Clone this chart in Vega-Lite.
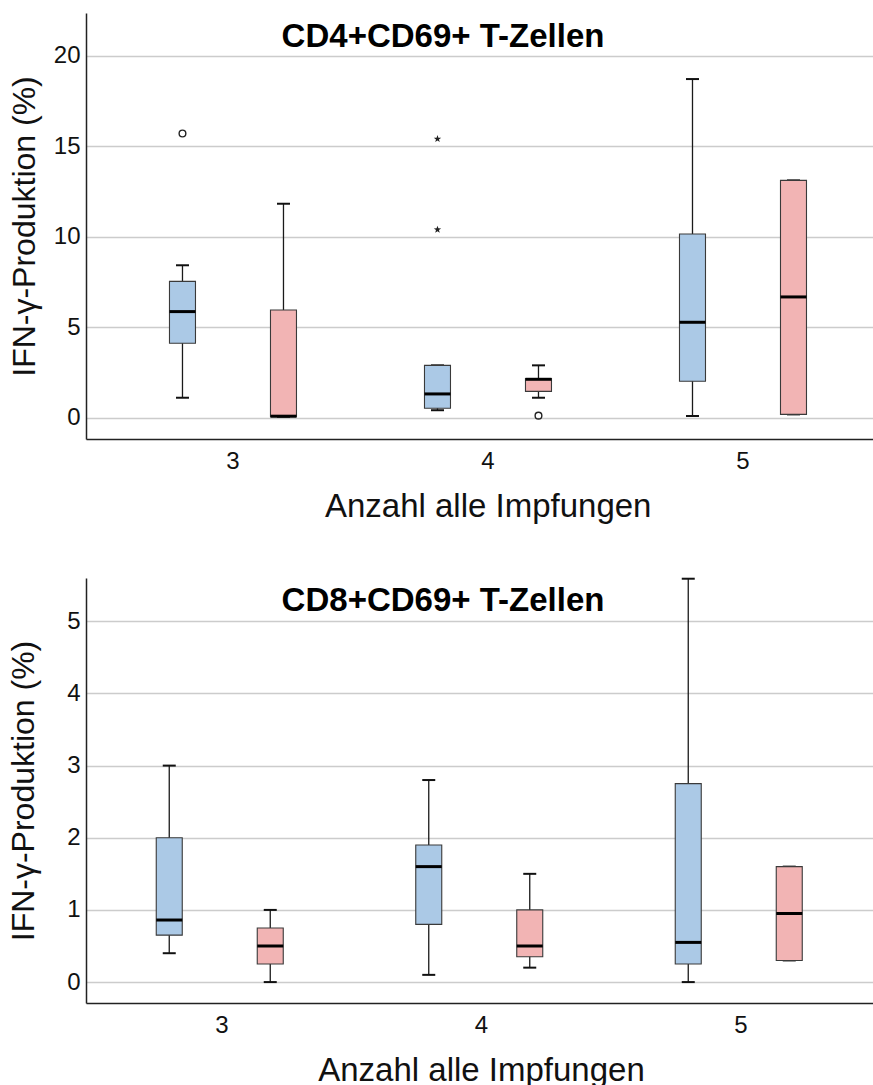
{
  "$schema": "https://vega.github.io/schema/vega-lite/v6.json",
  "padding": {"left": 7, "top": 13, "right": 0, "bottom": 0},
  "autosize": {"type": "pad"},
  "config": {
    "font": "Liberation Sans",
    "view": {"stroke": null},
    "axis": {"labelFont": "Liberation Sans", "titleFont": "Liberation Sans", "labelFontSize": 24, "titleFontSize": 32, "titleFontWeight": "normal", "labelColor": "#111", "titleColor": "#111", "domainColor": "#222", "domainWidth": 1.5, "ticks": false, "gridColor": "#cccccc", "gridWidth": 1.5},
    "axisX": {"grid": false, "labelPadding": 10, "titlePadding": 17, "labelAngle": 0, "titleFontSize": 33},
    "axisY": {"grid": true, "labelPadding": 6},
    "tick": {"opacity": 1}
  },
  "datasets": {
    "cd4box": [
      {"impf": "3", "grp": "a", "lo": 1.10, "q1": 4.11, "med": 5.86, "q3": 7.53, "hi": 8.42},
      {"impf": "3", "grp": "b", "lo": 0.05, "q1": 0.05, "med": 0.08, "q3": 5.95, "hi": 11.82},
      {"impf": "4", "grp": "a", "lo": 0.41, "q1": 0.52, "med": 1.31, "q3": 2.89, "hi": 2.89},
      {"impf": "4", "grp": "b", "lo": 1.10, "q1": 1.45, "med": 2.12, "q3": 2.16, "hi": 2.89},
      {"impf": "5", "grp": "a", "lo": 0.09, "q1": 2.01, "med": 5.27, "q3": 10.15, "hi": 18.71},
      {"impf": "5", "grp": "b", "lo": 0.18, "q1": 0.18, "med": 6.67, "q3": 13.11, "hi": 13.11}
    ],
    "cd4circ": [
      {"impf": "3", "grp": "a", "v": 15.7},
      {"impf": "4", "grp": "b", "v": 0.11}
    ],
    "cd4star": [
      {"impf": "4", "grp": "a", "v": 15.4},
      {"impf": "4", "grp": "a", "v": 10.39}
    ],
    "cd8box": [
      {"impf": "3", "grp": "a", "lo": 0.40, "q1": 0.65, "med": 0.86, "q3": 2.0, "hi": 3.0},
      {"impf": "3", "grp": "b", "lo": 0.0, "q1": 0.25, "med": 0.5, "q3": 0.75, "hi": 1.0},
      {"impf": "4", "grp": "a", "lo": 0.1, "q1": 0.8, "med": 1.6, "q3": 1.9, "hi": 2.8},
      {"impf": "4", "grp": "b", "lo": 0.2, "q1": 0.35, "med": 0.5, "q3": 1.0, "hi": 1.5},
      {"impf": "5", "grp": "a", "lo": 0.0, "q1": 0.25, "med": 0.55, "q3": 2.75, "hi": 5.59},
      {"impf": "5", "grp": "b", "lo": 0.3, "q1": 0.3, "med": 0.95, "q3": 1.6, "hi": 1.6}
    ]
  },
  "vconcat": [
    {
      "width": 787,
      "height": 426,
      "resolve": {"axis": {"x": "independent"}},
      "encoding": {
        "x": {"field": "impf", "type": "nominal", "scale": {"paddingInner": 0, "paddingOuter": 0.0431, "align": 0.886}, "axis": null},
        "xOffset": {"field": "grp", "type": "nominal", "scale": {"paddingInner": 0, "paddingOuter": 0.2624}}
      },
      "layer": [
        {
          "data": {"name": "cd4box"},
          "mark": {"type": "rule", "color": "#1a1a1a", "strokeWidth": 1.3},
          "encoding": {
            "x": {"field": "impf", "type": "nominal", "scale": {"paddingInner": 0, "paddingOuter": 0.0431, "align": 0.886}, "axis": {"title": "Anzahl alle Impfungen", "titleX": 401.7}},
            "y": {"field": "lo", "type": "quantitative", "scale": {"domain": [-1.18, 22.36], "nice": false, "zero": false}, "axis": {"title": "IFN-γ-Produktion (%)", "values": [0, 5, 10, 15, 20], "titlePadding": 12}},
            "y2": {"field": "hi"}
          }
        },
        {
          "data": {"name": "cd4box"},
          "mark": {"type": "tick", "color": "#111", "size": 13, "thickness": 2},
          "encoding": {
            "x": {"field": "impf", "type": "nominal", "scale": {"paddingInner": 0, "paddingOuter": 0.0431, "align": 0.886}, "axis": {"orient": "top", "title": "CD4+CD69+ T-Zellen", "labels": false, "domain": false, "ticks": false, "grid": false, "titleFontSize": 33, "titleFontWeight": "bold", "titleColor": "#000", "titleX": 356.5, "titleY": 33, "titleBaseline": "alphabetic", "titleAlign": "center", "titleAngle": 0}},
            "y": {"field": "lo", "type": "quantitative", "scale": {"domain": [-1.18, 22.36], "nice": false, "zero": false}, "axis": {"title": "IFN-γ-Produktion (%)", "values": [0, 5, 10, 15, 20], "titlePadding": 12}}
          }
        },
        {
          "data": {"name": "cd4box"},
          "mark": {"type": "tick", "color": "#111", "size": 13, "thickness": 2},
          "encoding": {
            "y": {"field": "hi", "type": "quantitative", "scale": {"domain": [-1.18, 22.36], "nice": false, "zero": false}, "axis": {"title": "IFN-γ-Produktion (%)", "values": [0, 5, 10, 15, 20], "titlePadding": 12}}
          }
        },
        {
          "data": {"name": "cd4box"},
          "mark": {"type": "bar", "size": 26, "stroke": "#3a3a3a", "strokeWidth": 1.1, "opacity": 1},
          "encoding": {
            "y": {"field": "q1", "type": "quantitative", "scale": {"domain": [-1.18, 22.36], "nice": false, "zero": false}, "axis": {"title": "IFN-γ-Produktion (%)", "values": [0, 5, 10, 15, 20], "titlePadding": 12}},
            "y2": {"field": "q3"},
            "color": {"field": "grp", "type": "nominal", "scale": {"domain": ["a", "b"], "range": ["#abc9e6", "#f2b4b4"]}, "legend": null}
          }
        },
        {
          "data": {"name": "cd4box"},
          "mark": {"type": "tick", "color": "#000", "size": 26, "thickness": 3},
          "encoding": {
            "y": {"field": "med", "type": "quantitative", "scale": {"domain": [-1.18, 22.36], "nice": false, "zero": false}, "axis": {"title": "IFN-γ-Produktion (%)", "values": [0, 5, 10, 15, 20], "titlePadding": 12}}
          }
        },
        {
          "data": {"name": "cd4circ"},
          "mark": {"type": "point", "shape": "circle", "filled": false, "stroke": "#222", "strokeWidth": 1.4, "size": 45, "opacity": 1},
          "encoding": {
            "y": {"field": "v", "type": "quantitative", "scale": {"domain": [-1.18, 22.36], "nice": false, "zero": false}, "axis": {"title": "IFN-γ-Produktion (%)", "values": [0, 5, 10, 15, 20], "titlePadding": 12}}
          }
        },
        {
          "data": {"name": "cd4star"},
          "mark": {"type": "point", "shape": "M0,-1L0.235,-0.324L0.951,-0.309L0.38,0.124L0.588,0.809L0,0.4L-0.588,0.809L-0.38,0.124L-0.951,-0.309L-0.235,-0.324Z", "filled": true, "fill": "#222", "strokeWidth": 0, "size": 60, "opacity": 1},
          "encoding": {
            "y": {"field": "v", "type": "quantitative", "scale": {"domain": [-1.18, 22.36], "nice": false, "zero": false}, "axis": {"title": "IFN-γ-Produktion (%)", "values": [0, 5, 10, 15, 20], "titlePadding": 12}}
          }
        }
      ]
    },
    {
      "width": 787,
      "height": 425,
      "resolve": {"axis": {"x": "independent"}},
      "encoding": {
        "x": {"field": "impf", "type": "nominal", "scale": {"paddingInner": 0, "paddingOuter": 0.01638, "align": 0.735}, "axis": null},
        "xOffset": {"field": "grp", "type": "nominal", "scale": {"paddingInner": 0, "paddingOuter": 0.266}}
      },
      "layer": [
        {
          "data": {"name": "cd8box"},
          "mark": {"type": "rule", "color": "#1a1a1a", "strokeWidth": 1.3},
          "encoding": {
            "x": {"field": "impf", "type": "nominal", "scale": {"paddingInner": 0, "paddingOuter": 0.01638, "align": 0.735}, "axis": {"title": "Anzahl alle Impfungen", "titleX": 395}},
            "y": {"field": "lo", "type": "quantitative", "scale": {"domain": [-0.29, 5.6], "nice": false, "zero": false}, "axis": {"title": "IFN-γ-Produktion (%)", "values": [0, 1, 2, 3, 4, 5], "titlePadding": 26}},
            "y2": {"field": "hi"}
          }
        },
        {
          "data": {"name": "cd8box"},
          "mark": {"type": "tick", "color": "#111", "size": 13, "thickness": 2},
          "encoding": {
            "x": {"field": "impf", "type": "nominal", "scale": {"paddingInner": 0, "paddingOuter": 0.01638, "align": 0.735}, "axis": {"orient": "top", "title": "CD8+CD69+ T-Zellen", "labels": false, "domain": false, "ticks": false, "grid": false, "titleFontSize": 33, "titleFontWeight": "bold", "titleColor": "#000", "titleX": 356.5, "titleY": 32, "titleBaseline": "alphabetic", "titleAlign": "center", "titleAngle": 0}},
            "y": {"field": "lo", "type": "quantitative", "scale": {"domain": [-0.29, 5.6], "nice": false, "zero": false}, "axis": {"title": "IFN-γ-Produktion (%)", "values": [0, 1, 2, 3, 4, 5], "titlePadding": 26}}
          }
        },
        {
          "data": {"name": "cd8box"},
          "mark": {"type": "tick", "color": "#111", "size": 13, "thickness": 2},
          "encoding": {
            "y": {"field": "hi", "type": "quantitative", "scale": {"domain": [-0.29, 5.6], "nice": false, "zero": false}, "axis": {"title": "IFN-γ-Produktion (%)", "values": [0, 1, 2, 3, 4, 5], "titlePadding": 26}}
          }
        },
        {
          "data": {"name": "cd8box"},
          "mark": {"type": "bar", "size": 26, "stroke": "#3a3a3a", "strokeWidth": 1.1, "opacity": 1},
          "encoding": {
            "y": {"field": "q1", "type": "quantitative", "scale": {"domain": [-0.29, 5.6], "nice": false, "zero": false}, "axis": {"title": "IFN-γ-Produktion (%)", "values": [0, 1, 2, 3, 4, 5], "titlePadding": 26}},
            "y2": {"field": "q3"},
            "color": {"field": "grp", "type": "nominal", "scale": {"domain": ["a", "b"], "range": ["#abc9e6", "#f2b4b4"]}, "legend": null}
          }
        },
        {
          "data": {"name": "cd8box"},
          "mark": {"type": "tick", "color": "#000", "size": 26, "thickness": 3},
          "encoding": {
            "y": {"field": "med", "type": "quantitative", "scale": {"domain": [-0.29, 5.6], "nice": false, "zero": false}, "axis": {"title": "IFN-γ-Produktion (%)", "values": [0, 1, 2, 3, 4, 5], "titlePadding": 26}}
          }
        }
      ]
    }
  ],
  "spacing": 54
}
